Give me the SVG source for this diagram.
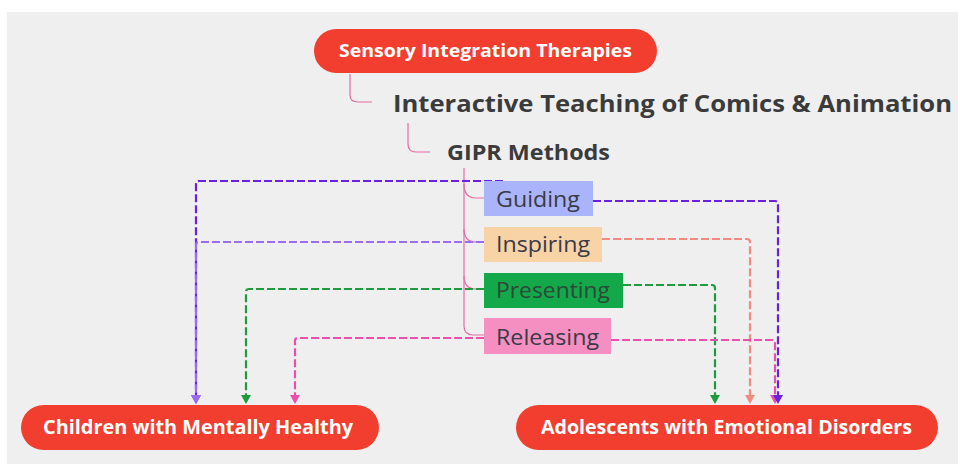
<svg xmlns="http://www.w3.org/2000/svg" width="958" height="464" viewBox="0 0 958 464">
  <style>
    .pill { fill: #f13e2f; }
    .pill-text { font-family: "Open Sans", "Noto Sans", "Liberation Sans", sans-serif; font-weight: 700; fill: #ffffff; }
    .heading { font-family: "Open Sans", "Noto Sans", "Liberation Sans", sans-serif; font-weight: 700; fill: #3b3b3b; }
    .box-text { font-family: "Open Sans", "Noto Sans", "Liberation Sans", sans-serif; font-weight: 400; font-size: 22.5px; fill: #3a3a48; }
    .tree { fill: none; stroke: #e46ca4; stroke-width: 1.2; }
    .link { fill: none; stroke-width: 2.2; stroke-dasharray: 8 3; }
  </style>
  <defs>
    <marker id="arr-violet" viewBox="0 0 10 10" refX="0" refY="5" markerWidth="10" markerHeight="10" markerUnits="userSpaceOnUse" orient="auto">
      <path d="M0,0 L9,5 L0,10 z" fill="#6a20dc"/>
    </marker>
    <marker id="arr-lilac" viewBox="0 0 10 10" refX="0" refY="5" markerWidth="10" markerHeight="10" markerUnits="userSpaceOnUse" orient="auto">
      <path d="M0,0 L9,5 L0,10 z" fill="#9a6cf2"/>
    </marker>
    <marker id="arr-salmon" viewBox="0 0 10 10" refX="0" refY="5" markerWidth="10" markerHeight="10" markerUnits="userSpaceOnUse" orient="auto">
      <path d="M0,0 L9,5 L0,10 z" fill="#f28a80"/>
    </marker>
    <marker id="arr-green" viewBox="0 0 10 10" refX="0" refY="5" markerWidth="10" markerHeight="10" markerUnits="userSpaceOnUse" orient="auto">
      <path d="M0,0 L9,5 L0,10 z" fill="#1f9a3d"/>
    </marker>
    <marker id="arr-pink" viewBox="0 0 10 10" refX="0" refY="5" markerWidth="10" markerHeight="10" markerUnits="userSpaceOnUse" orient="auto">
      <path d="M0,0 L9,5 L0,10 z" fill="#ea4fae"/>
    </marker>
  </defs>

  <!-- canvas -->
  <rect x="0" y="0" width="958" height="464" fill="#ffffff"/>
  <rect x="7" y="12" width="951" height="452" fill="#efefef"/>

  <!-- hierarchy lines of the topic tree -->
  <g id="tree-lines">
    <path class="tree" d="M350 74 V95 Q350 102 358 102 H372"/>
    <path class="tree" d="M408 123 V144 Q408 152 416 152 H430"/>
    <path class="tree" d="M464 168 V326 Q464 335 473 335 H484"/>
    <path class="tree" d="M464 184 Q464 198 476 198 H484"/>
    <path class="tree" d="M464 229 Q464 242 476 242 H484"/>
    <path class="tree" d="M464 276 Q464 289 476 289 H484"/>
  </g>

  <!-- dashed relationship connectors -->
  <g id="connectors">
    <path class="link" stroke="#6a20dc" d="M503 181 H199 Q196 181 196 184 V395" marker-end="url(#arr-violet)"/>
    <path class="link" stroke="#9a6cf2" d="M484 242 H199 Q196 242 196 245 V395" marker-end="url(#arr-lilac)"/>
    <path class="link" stroke="#1f9a3d" d="M484 289 H249 Q246 289 246 292 V395" marker-end="url(#arr-green)"/>
    <path class="link" stroke="#ea4fae" d="M484 338 H298 Q295 338 295 341 V395" marker-end="url(#arr-pink)"/>
    <path class="link" stroke="#1f9a3d" d="M623 285 H712 Q715 285 715 288 V395" marker-end="url(#arr-green)"/>
    <path class="link" stroke="#f28a80" d="M602 239 H747 Q750 239 750 242 V395" marker-end="url(#arr-salmon)"/>
    <path class="link" stroke="#ea4fae" d="M611 340 H772 Q775 340 775 343 V395" marker-end="url(#arr-pink)"/>
    <path class="link" stroke="#6a20dc" d="M593 201 H775 Q778 201 778 204 V395" marker-end="url(#arr-violet)"/>
  </g>

  <g id="sensory-integration">
    <rect class="pill" x="314" y="29" width="343" height="44" rx="22"/>
    <text class="pill-text" x="339" y="57" font-size="18" textLength="293" lengthAdjust="spacingAndGlyphs">Sensory Integration Therapies</text>
  </g>

  <g id="interactive-teaching">
    <text class="heading" x="393" y="112" font-size="24" textLength="559" lengthAdjust="spacingAndGlyphs">Interactive Teaching of Comics &amp; Animation</text>
  </g>

  <g id="gipr-methods">
    <text class="heading" x="447" y="160" font-size="21" textLength="163" lengthAdjust="spacingAndGlyphs">GIPR Methods</text>
  </g>

  <g id="guiding">
    <rect x="484" y="181" width="109" height="35" fill="#a9b4fa"/>
    <text class="box-text" x="496" y="207" textLength="84" lengthAdjust="spacingAndGlyphs">Guiding</text>
  </g>

  <g id="inspiring">
    <rect x="484" y="227" width="118" height="35" fill="#f8d3a6"/>
    <text class="box-text" x="496" y="252" textLength="94" lengthAdjust="spacingAndGlyphs">Inspiring</text>
  </g>

  <g id="presenting">
    <rect x="484" y="273" width="139" height="35" fill="#13a84a"/>
    <text class="box-text" x="496" y="298" textLength="114" lengthAdjust="spacingAndGlyphs" style="fill:#2c4a36">Presenting</text>
  </g>

  <g id="releasing">
    <rect x="484" y="318" width="127" height="36" fill="#f68fc1"/>
    <text class="box-text" x="496" y="345" textLength="103" lengthAdjust="spacingAndGlyphs">Releasing</text>
  </g>

  <g id="children">
    <rect class="pill" x="21" y="405" width="358" height="45" rx="22.5"/>
    <text class="pill-text" x="43" y="434" font-size="20" textLength="310" lengthAdjust="spacingAndGlyphs">Children with Mentally Healthy</text>
  </g>

  <g id="adolescents">
    <rect class="pill" x="516" y="405" width="422" height="45" rx="22.5"/>
    <text class="pill-text" x="541" y="434" font-size="20" textLength="371" lengthAdjust="spacingAndGlyphs">Adolescents with Emotional Disorders</text>
  </g>
</svg>
